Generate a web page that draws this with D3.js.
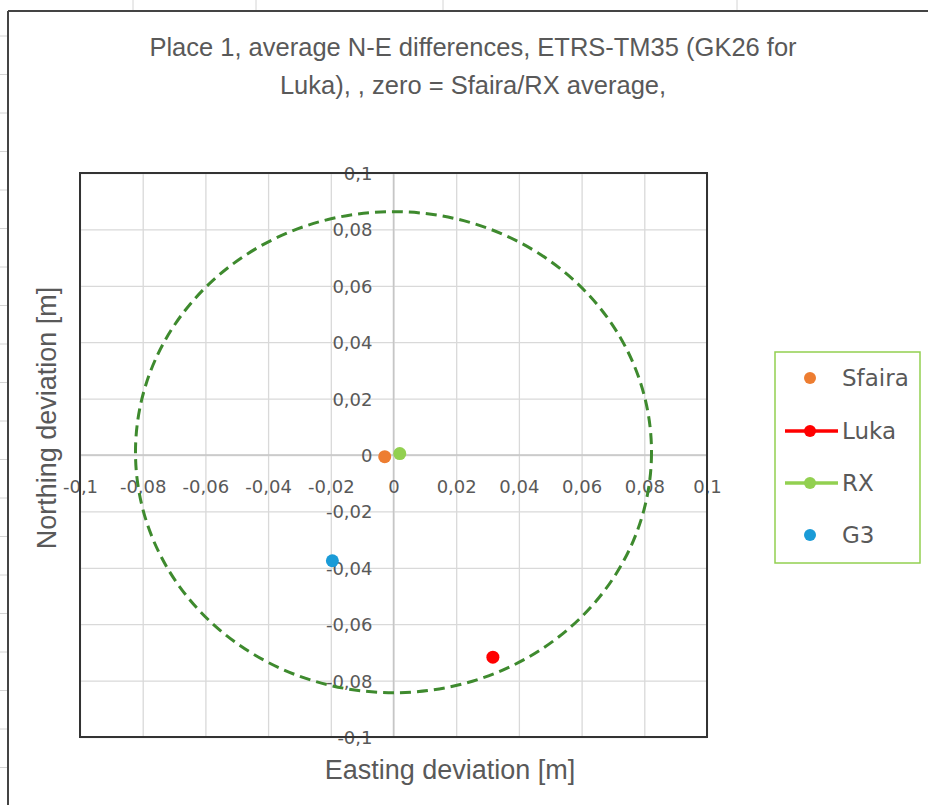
<!DOCTYPE html>
<html>
<head>
<meta charset="utf-8">
<script src="https://cdn.jsdelivr.net/npm/d3@7"></script>
<style>
  html, body { margin: 0; padding: 0; background: #ffffff; }
  svg { display: block; }
</style>
</head>
<body>
<svg id="chart" width="928" height="805"></svg>
<script>
// ---------- data ----------
const titleLines = ["Place 1, average N-E differences, ETRS-TM35 (GK26 for", "Luka), , zero = Sfaira/RX average,"];
const xAxisTitle = "Easting deviation [m]";
const yAxisTitle = "Northing deviation [m]";

const seriesNames  = ["Sfaira", "Luka", "RX", "G3"];
const seriesColors = ["#ED7D31", "#FF0000", "#92D050", "#1A9BD7"];
const seriesHasLine = [false, true, true, false];
const eastingValues  = [-0.0028, 0.0317, 0.0020, -0.0195];
const northingValues = [-0.0006, -0.0717, 0.0005, -0.0375];

// dashed reference circle (as drawn, in data units)
const circleCenter = [0.0, 0.001];
const circleRadii  = [0.0823, 0.0853];

const tickValues = [-0.1, -0.08, -0.06, -0.04, -0.02, 0, 0.02, 0.04, 0.06, 0.08, 0.1];
const tickLabels = ["-0,1", "-0,08", "-0,06", "-0,04", "-0,02", "0", "0,02", "0,04", "0,06", "0,08", "0,1"];
const axisDomain = [-0.1, 0.1];

// ---------- layout ----------
const svg = d3.select("#chart");
const plot = { left: 80, right: 707, top: 173, bottom: 737 };
const x = d3.scaleLinear().domain(axisDomain).range([plot.left, plot.right]);
const y = d3.scaleLinear().domain(axisDomain).range([plot.bottom, plot.top]);
const labelOf = v => tickLabels[tickValues.indexOf(v)];
const textColor = "#595959";

// spreadsheet background behind the chart object
const sheet = svg.append("g");
[133, 256, 443, 737].forEach(cx => {
  sheet.append("line").attr("x1", cx).attr("x2", cx).attr("y1", 0).attr("y2", 11)
    .attr("stroke", "#d4d4d4").attr("stroke-width", 1);
});
for (let ry = 36; ry < 805; ry += 38.5) {
  sheet.append("line").attr("x1", 0).attr("x2", 7).attr("y1", ry).attr("y2", ry)
    .attr("stroke", "#d4d4d4").attr("stroke-width", 1);
}
// chart object border (top & left visible)
svg.append("line").attr("x1", 8).attr("x2", 928).attr("y1", 11).attr("y2", 11)
  .attr("stroke", "#444").attr("stroke-width", 2);
svg.append("line").attr("x1", 8).attr("x2", 8).attr("y1", 11).attr("y2", 805)
  .attr("stroke", "#444").attr("stroke-width", 2);

// title
svg.append("text")
  .attr("x", 473).attr("y", 56)
  .attr("text-anchor", "middle")
  .style("font-family", "'Liberation Sans', Arial, sans-serif")
  .style("font-size", "25.5px")
  .style("fill", textColor)
  .selectAll("tspan").data(titleLines).join("tspan")
  .attr("x", 473).attr("dy", (d, i) => i === 0 ? 0 : 38)
  .text(d => d);

// gridlines
const gridX = svg.append("g")
  .attr("transform", `translate(0,${plot.bottom})`)
  .call(d3.axisBottom(x).tickValues(tickValues).tickSize(-(plot.bottom - plot.top)).tickFormat(""));
gridX.select(".domain").remove();
gridX.selectAll("line").attr("stroke", "#d9d9d9").attr("stroke-width", 1.3);

const gridY = svg.append("g")
  .attr("transform", `translate(${plot.left},0)`)
  .call(d3.axisLeft(y).tickValues(tickValues).tickSize(-(plot.right - plot.left)).tickFormat(""));
gridY.select(".domain").remove();
gridY.selectAll("line").attr("stroke", "#d9d9d9").attr("stroke-width", 1.3);

// zero axes lines
svg.append("line").attr("x1", x(0)).attr("x2", x(0)).attr("y1", plot.top).attr("y2", plot.bottom)
  .attr("stroke", "#c6c6c6").attr("stroke-width", 1.5);
svg.append("line").attr("x1", plot.left).attr("x2", plot.right).attr("y1", y(0)).attr("y2", y(0))
  .attr("stroke", "#c6c6c6").attr("stroke-width", 1.5);

// tick labels via axes crossing at zero
const tickFont = "'DejaVu Sans', Verdana, sans-serif";
const xAxis = svg.append("g")
  .attr("transform", `translate(0,${y(0)})`)
  .call(d3.axisBottom(x).tickValues(tickValues).tickSize(0).tickFormat(labelOf));
xAxis.select(".domain").remove();
xAxis.selectAll("text")
  .attr("y", 32).attr("dy", "0.36em")
  .style("font-family", tickFont).style("font-size", "18px").style("fill", textColor);

const yAxis = svg.append("g")
  .attr("transform", `translate(${x(0)},0)`)
  .call(d3.axisLeft(y).tickValues(tickValues).tickSize(0).tickFormat(labelOf));
yAxis.select(".domain").remove();
yAxis.selectAll("text")
  .attr("x", -21).attr("dy", "0.36em")
  .style("font-family", tickFont).style("font-size", "18px").style("fill", textColor);

// plot area border
svg.append("rect")
  .attr("x", plot.left).attr("y", plot.top)
  .attr("width", plot.right - plot.left).attr("height", plot.bottom - plot.top)
  .attr("fill", "none").attr("stroke", "#333").attr("stroke-width", 2);

// dashed circle
svg.append("ellipse")
  .attr("cx", x(circleCenter[0])).attr("cy", y(circleCenter[1]))
  .attr("rx", x(circleRadii[0]) - x(0)).attr("ry", y(0) - y(circleRadii[1]))
  .attr("fill", "none").attr("stroke", "#3E8A2E").attr("stroke-width", 3)
  .attr("stroke-dasharray", "11,6");

// points
const pts = seriesNames.map((n, i) => ({ name: n, e: eastingValues[i], n: northingValues[i], c: seriesColors[i] }));
svg.append("g").selectAll("circle").data(pts).join("circle")
  .attr("cx", d => x(d.e)).attr("cy", d => y(d.n)).attr("r", 6.5)
  .attr("fill", d => d.c);

// axis titles
svg.append("text")
  .attr("x", 450).attr("y", 779)
  .attr("text-anchor", "middle")
  .style("font-family", "'Liberation Sans', Arial, sans-serif")
  .style("font-size", "27px").style("fill", textColor)
  .text(xAxisTitle);
svg.append("text")
  .attr("transform", "translate(56,418) rotate(-90)")
  .attr("text-anchor", "middle")
  .style("font-family", "'Liberation Sans', Arial, sans-serif")
  .style("font-size", "27px").style("fill", textColor)
  .text(yAxisTitle);

// legend
const legend = svg.append("g");
legend.append("rect")
  .attr("x", 775).attr("y", 352).attr("width", 145).attr("height", 211)
  .attr("fill", "#fff").attr("stroke", "#92D050").attr("stroke-width", 1.5);
const legendY = [378, 431, 483, 535];
const items = legend.selectAll("g.item").data(pts).join("g").attr("class", "item")
  .attr("transform", (d, i) => `translate(0,${legendY[i]})`);
items.filter((d, i) => seriesHasLine[i]).append("line")
  .attr("x1", 785).attr("x2", 838).attr("y1", 0).attr("y2", 0)
  .attr("stroke", d => d.c).attr("stroke-width", 3.5);
items.append("circle").attr("cx", 810).attr("cy", 0).attr("r", 6).attr("fill", d => d.c);
items.append("text")
  .attr("x", 842).attr("y", 0).attr("dy", "0.36em")
  .style("font-family", tickFont).style("font-size", "23px").style("fill", textColor)
  .text(d => d.name);
</script>
</body>
</html>
